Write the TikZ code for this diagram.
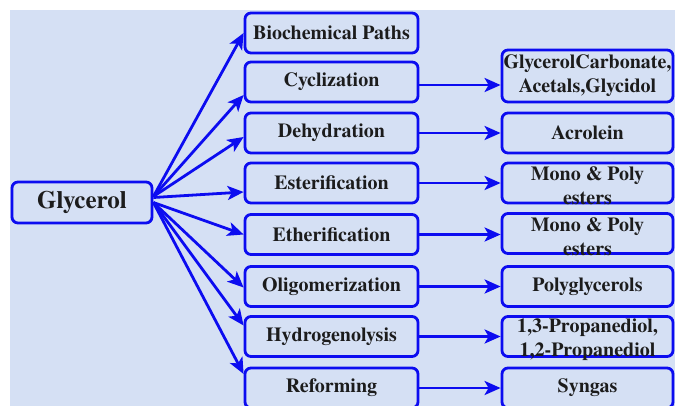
\documentclass[tikz,border=0pt]{standalone}
\usepackage{fontspec}
\setmainfont{texgyretermes}[Extension=.otf, UprightFont=*-regular, BoldFont=*-bold]
\usetikzlibrary{arrows.meta}
\definecolor{bgblue}{RGB}{213,224,244}
\definecolor{boxblue}{RGB}{12,12,240}
\definecolor{ink}{RGB}{28,28,28}
\begin{document}
\begin{tikzpicture}[x=1pt,y=-1pt,
    pbox/.style={draw=boxblue, line width=2.8pt, rounded corners=6pt, fill=bgblue,
        minimum width=173pt, minimum height=40pt, inner sep=0pt},
    ptxt/.style={text=ink, font=\fontsize{20}{24}\selectfont\bfseries, align=center},
    mid/.style={pbox, ptxt},
    link/.style={draw=boxblue, line width=2.8pt, -{Stealth[length=16pt,width=14pt,inset=4pt]}}]
    \useasboundingbox (0,0) rectangle (675,405);
    \clip (0,0) rectangle (675,405);
    \fill[bgblue] (10,10) rectangle (680,410);

    \node[pbox, ptxt, minimum width=140pt, minimum height=41pt,
        font=\fontsize{25}{30}\selectfont\bfseries] (gly) at (82,202.5) {Glycerol};

    \node[mid] (bio) at (331.5,33) {Biochemical Paths};
    \node[mid] (cyc) at (331.5,82) {Cyclization};
    \node[mid] (dhy) at (331.5,133) {Dehydration};
    \node[mid] (est) at (331.5,183) {Esterification};
    \node[mid] (eth) at (331.5,234.5) {Etherification};
    \node[mid] (oli) at (331.5,286.5) {Oligomerization};
    \node[mid] (hyd) at (331.5,336.5) {Hydrogenolysis};
    \node[mid] (ref) at (331.5,388) {Reforming};

    \node[pbox, minimum width=171pt, minimum height=52pt,
        label={[ptxt]center:GlycerolCarbonate,\\Acetals,Glycidol}] (carb) at (587.5,76) {};
    \node[mid, minimum width=171pt] (acro) at (587.5,133) {Acrolein};
    \node[pbox, minimum width=171pt,
        label={[ptxt,yshift=-3pt]center:Mono \& Poly\\esters}] (mono1) at (587.5,183) {};
    \node[pbox, minimum width=171pt,
        label={[ptxt,yshift=-3pt]center:Mono \& Poly\\esters}] (mono2) at (587.5,233.5) {};
    \node[mid, minimum width=171pt] (poly) at (587.5,286.5) {Polyglycerols};
    \node[pbox, minimum width=171pt,
        label={[ptxt,yshift=-3pt]center:1,3-Propanediol,\\1,2-Propanediol}] (prop) at (587.5,336.5) {};
    \node[mid, minimum width=171pt] (syn) at (587.5,388) {Syngas};

    \draw[link] ([yshift=6pt]gly.east) -- (bio.west);
    \draw[link] ([yshift=6pt]gly.east) -- ([yshift=-13pt]cyc.west);
    \draw[link] ([yshift=6pt]gly.east) -- ([yshift=-4pt]dhy.west);
    \draw[link] ([yshift=5pt]gly.east) -- ([yshift=-9pt]est.west);
    \draw[link] (gly.east) -- (eth.west);
    \draw[link] (gly.east) -- ([yshift=-1pt]oli.west);
    \draw[link] (gly.east) -- ([yshift=11pt]hyd.west);
    \draw[link] (gly.east) -- ([yshift=14pt]ref.west);

    \draw[link] ([yshift=-3pt]cyc.east) -- ([yshift=-3pt]cyc.east -| carb.west);
    \draw[link] (dhy.east) -- (dhy.east -| acro.west);
    \draw[link] (est.east) -- (est.east -| mono1.west);
    \draw[link] (eth.east) -- (eth.east -| mono2.west);
    \draw[link] (oli.east) -- (oli.east -| poly.west);
    \draw[link] (hyd.east) -- (hyd.east -| prop.west);
    \draw[link] (ref.east) -- (ref.east -| syn.west);
\end{tikzpicture}
\end{document}
